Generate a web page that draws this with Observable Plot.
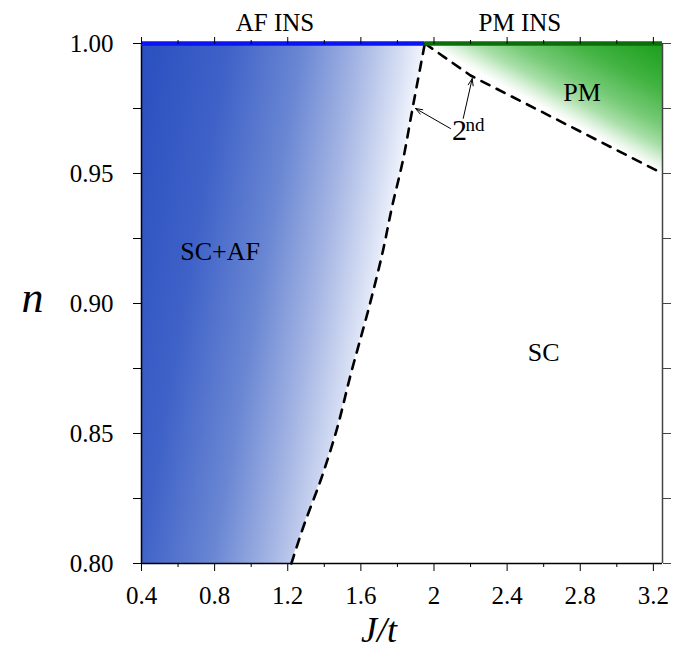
<!DOCTYPE html>
<html>
<head>
<meta charset="utf-8">
<script src="https://cdn.jsdelivr.net/npm/d3@7"></script>
<script src="https://cdn.jsdelivr.net/npm/@observablehq/plot@0.6"></script>
<style>
  body { margin: 0; background: #fff; }
</style>
</head>
<body>
<div id="chart"></div>
<script>
// ---- data ----
const afBoundaryJ = [1.22, 1.29, 1.38, 1.47, 1.54, 1.65, 1.72, 1.77, 1.83, 1.88, 1.95];
const afBoundaryN = [0.80, 0.815, 0.832, 0.852, 0.8715, 0.90, 0.92, 0.937, 0.955, 0.974, 1.00];
const pmBoundaryJ = [1.95, 2.2, 3.25];
const pmBoundaryN = [1.00, 0.9877, 0.95];

const topBarStart = [0.4, 1.95];
const topBarEnd = [1.95, 3.25];
const topBarColor = ["#0a14f5", "#0b6e0b"];

const insulatorLabels = ["AF INS", "PM INS"];
const insulatorLabelJ = [1.13, 2.47];

const phaseLabels = ["SC+AF", "SC", "PM"];
const phaseLabelJ = [0.83, 2.6, 2.81];
const phaseLabelN = [0.92, 0.881, 0.981];

const arrowTailJ = [2.09, 2.16];
const arrowTailN = [0.9673, 0.9712];
const arrowHeadJ = [1.899, 2.209];
const arrowHeadN = [0.975, 0.9865];

const xTicks = [0.4, 0.8, 1.2, 1.6, 2.0, 2.4, 2.8, 3.2];
const xMinorTicks = [0.6, 1.0, 1.4, 1.8, 2.2, 2.6, 3.0];
const yTicks = [0.80, 0.85, 0.90, 0.95, 1.00];
const yMinorTicks = [0.825, 0.875, 0.925, 0.975];
const xDomain = [0.4, 3.25];
const yDomain = [0.80, 1.00];

// ---- tables ----
const afData = afBoundaryJ.map((j, i) => ({j, n: afBoundaryN[i]}));
const pmData = pmBoundaryJ.map((j, i) => ({j, n: pmBoundaryN[i]}));
const barData = topBarStart.map((s, i) => ({s, e: topBarEnd[i], c: topBarColor[i]}));
const insData = insulatorLabels.map((t, i) => ({t, j: insulatorLabelJ[i]}));
const phaseData = phaseLabels.map((t, i) => ({t, j: phaseLabelJ[i], n: phaseLabelN[i]}));
const arrowData = arrowTailJ.map((j, i) => ({x1: j, y1: arrowTailN[i], x2: arrowHeadJ[i], y2: arrowHeadN[i]}));

const serif = "'Liberation Serif', 'DejaVu Serif', serif";
const fmtX = d => String(+d.toFixed(1));
const blank = () => "";

const chart = Plot.plot({
  width: 686,
  height: 657,
  marginLeft: 141,
  marginRight: 24,
  marginTop: 43,
  marginBottom: 94,
  style: `font-family: ${serif}; font-size: 25px; color: #000; background: #fff;`,
  x: {domain: xDomain},
  y: {domain: yDomain},
  marks: [
    Plot.areaX(afData, {x1: 0.4, x2: "j", y: "n", fill: "url(#afGrad)", curve: "monotone-y"}),
    Plot.areaY(pmData, {x: "j", y1: "n", y2: 1.0, fill: "url(#pmGrad)"}),
    Plot.line(afData, {x: "j", y: "n", stroke: "#000", strokeWidth: 2.6, strokeDasharray: "9,8", curve: "monotone-y"}),
    Plot.line(pmData, {x: "j", y: "n", stroke: "#000", strokeWidth: 2.6, strokeDasharray: "9,8"}),
    Plot.ruleX([xDomain[0]], {stroke: "#000", strokeWidth: 1.5}),
    Plot.ruleY([yDomain[0]], {stroke: "#000", strokeWidth: 1.5}),
    Plot.ruleX([xDomain[1]], {stroke: "#444", strokeWidth: 1.5}),
    Plot.ruleY(barData, {y: 1.0, x1: "s", x2: "e", stroke: "c", strokeWidth: 4.5}),
    Plot.axisY(yTicks, {anchor: "left", tickSize: 8, tickPadding: 20, tickFormat: d3.format(".2f"), fontSize: 25, fontFamily: serif, label: null}),
    Plot.axisY(yMinorTicks, {anchor: "left", tickSize: 8, tickFormat: blank, label: null}),
    Plot.axisY(yTicks.concat(yMinorTicks), {anchor: "right", tickSize: 8, tickFormat: blank, label: null, stroke: "#444"}),
    Plot.axisX(xTicks, {anchor: "bottom", tickSize: 8, tickPadding: 15, tickFormat: fmtX, fontSize: 25, fontFamily: serif, label: null}),
    Plot.axisX(xMinorTicks, {anchor: "bottom", tickSize: 4, tickFormat: blank, label: null}),
    Plot.axisX(xTicks, {anchor: "top", tickSize: 7, tickFormat: blank, label: null}),
    Plot.axisX(xMinorTicks, {anchor: "top", tickSize: 4, tickFormat: blank, label: null}),
    Plot.text(insData, {x: "j", y: 1.0, text: "t", dy: -21, fontSize: 25, fontFamily: serif, fill: "#000"}),
    Plot.text(phaseData, {x: "j", y: "n", text: "t", fontSize: 26, fontFamily: serif, fill: "#000"}),
    Plot.text(["2"], {x: 2.14, y: 0.9665, fontSize: 30, fontFamily: serif, fill: "#000"}),
    Plot.text(["nd"], {x: 2.172, y: 0.9688, fontSize: 19, fontFamily: serif, textAnchor: "start", fill: "#000"}),
    Plot.arrow(arrowData, {x1: "x1", y1: "y1", x2: "x2", y2: "y2", stroke: "#000", strokeWidth: 1, headLength: 11, headAngle: 40, bend: 0}),
    Plot.text(["J/t"], {frameAnchor: "bottom", dx: -23, dy: 78, fontSize: 36, fontFamily: serif, fontStyle: "italic", fill: "#000"}),
    Plot.text(["n"], {frameAnchor: "left", dx: -120, dy: -6, fontSize: 44, fontFamily: serif, fontStyle: "italic", fill: "#000"})
  ]
});

const svg = chart.tagName.toLowerCase() === "svg" ? chart : chart.querySelector("svg");
const xs = chart.scale("x"), ys = chart.scale("y");
const defs = d3.select(svg).insert("defs", ":first-child");

const afGrad = defs.append("linearGradient")
  .attr("id", "afGrad")
  .attr("gradientUnits", "userSpaceOnUse")
  .attr("x1", xs.apply(0.4)).attr("y1", ys.apply(1.0))
  .attr("x2", xs.apply(1.96)).attr("y2", ys.apply(0.981));
[[0, "#2a4fbf"], [0.3, "#3f62c8"], [0.55, "#6a87d3"], [0.75, "#a6b6e4"], [0.9, "#d8e0f4"], [1, "#ffffff"]]
  .forEach(([o, c]) => afGrad.append("stop").attr("offset", o).attr("stop-color", c));

const pmGrad = defs.append("linearGradient")
  .attr("id", "pmGrad")
  .attr("x1", 0).attr("y1", 1).attr("x2", 1).attr("y2", 0);
[[0, "#ffffff"], [0.5, "#ffffff"], [0.54, "#e0f3e0"], [0.6, "#a8dfa8"], [0.68, "#78cb78"], [0.82, "#42b342"], [1, "#1a9e1a"]]
  .forEach(([o, c]) => pmGrad.append("stop").attr("offset", o).attr("stop-color", c));

document.getElementById("chart").appendChild(chart);
</script>
</body>
</html>
